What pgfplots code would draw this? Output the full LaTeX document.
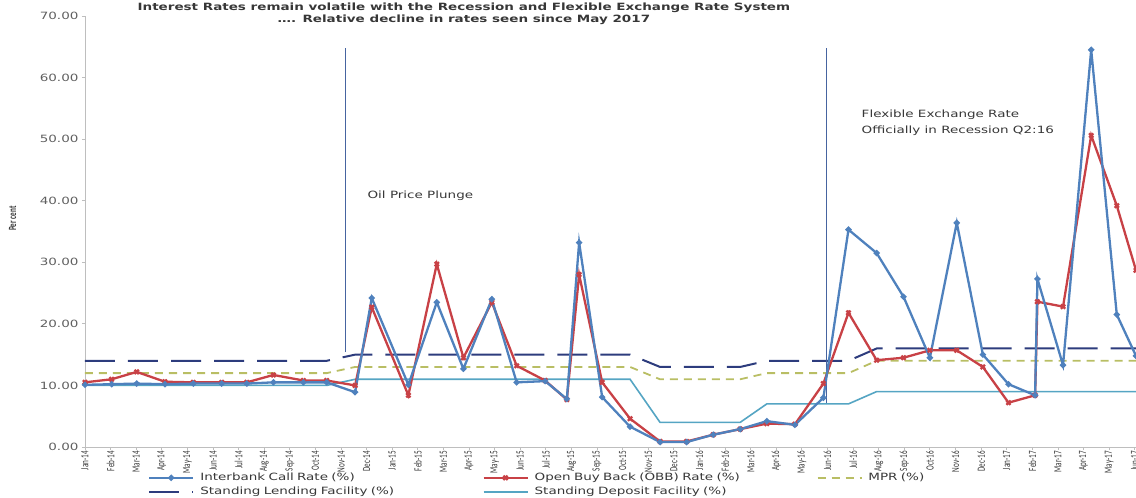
\documentclass[border=0pt]{standalone}
\usepackage{fontspec}
\setmainfont[FakeStretch=1.35]{DejaVu Sans}
\newfontfamily\xfont[FakeStretch=0.65]{Carlito}
\usepackage{pgfplots}
\pgfplotsset{compat=1.18}

\definecolor{ibc}{RGB}{79,129,189}
\definecolor{obbc}{RGB}{200,65,70}
\definecolor{mprc}{RGB}{185,190,100}
\definecolor{slfc}{RGB}{45,60,125}
\definecolor{sdfc}{RGB}{85,165,195}
\definecolor{vlc}{RGB}{70,100,160}
\definecolor{axc}{RGB}{190,190,190}
\definecolor{tickc}{RGB}{95,95,95}
\definecolor{txtc}{RGB}{55,55,55}

\pgfplotsset{
  ibstyle/.style={color=ibc, line width=2.3pt, mark=*, mark size=1.8pt, mark options={solid}},
  obbstyle/.style={color=obbc, line width=2.3pt, mark=x, mark size=3pt, mark options={solid}},
  mprstyle/.style={color=mprc, line width=1.8pt, dash pattern=on 8pt off 6pt},
  slfstyle/.style={color=slfc, line width=2pt, dash pattern=on 30pt off 13pt},
  sdfstyle/.style={color=sdfc, line width=1.6pt},
}

\begin{document}
\begin{tikzpicture}
\begin{axis}[
  scale only axis, width=1051pt, height=431pt,
  xmin=0, xmax=41.05, ymin=0, ymax=70,
  clip=false,
  axis x line*=bottom, axis y line*=left,
  axis line style={axc, line width=0.8pt},
  tick style={axc, line width=0.8pt},
  tick align=outside, major tick length=3pt,
  ytick={0,10,...,70},
  yticklabel={\pgfmathprintnumber[fixed,fixed zerofill,precision=2]{\tick}},
  /pgf/number format/assume math mode=true,
  yticklabel style={font=\fontsize{10}{12}\selectfont, text=tickc},
  xtick={0,...,41},
  xticklabels={Jan-14,Feb-14,Mar-14,Apr-14,May-14,Jun-14,Jul-14,Aug-14,Sep-14,Oct-14,Nov-14,Dec-14,
    Jan-15,Feb-15,Mar-15,Apr-15,May-15,Jun-15,Jul-15,Aug-15,Sep-15,Oct-15,Nov-15,Dec-15,
    Jan-16,Feb-16,Mar-16,Apr-16,May-16,Jun-16,Jul-16,Aug-16,Sep-16,Oct-16,Nov-16,Dec-16,
    Jan-17,Feb-17,Mar-17,Apr-17,May-17,Jun-17},
  xticklabel style={font=\xfont\fontsize{11}{12}\selectfont, rotate=90, anchor=east, inner sep=1pt, text=txtc},
  ylabel={Per cent},
  ylabel style={font=\xfont\bfseries\fontsize{11}{12}\selectfont, at={(axis description cs:-0.069,0.53)}, anchor=center, text=txtc},
  legend columns=3,
  legend cell align=left,
  legend image code/.code={
    \draw[mark repeat=2,mark phase=2,#1] plot coordinates {(0pt,0pt) (22pt,0pt) (44pt,0pt)};
  },
  legend style={at={(axis description cs:0.06,-0.06)}, anchor=north west,
    draw=none, fill=none, inner sep=0pt, outer sep=0pt,
    font=\fontsize{10}{12}\selectfont, text=txtc,
    column sep=0pt, row sep=4pt,
    /tikz/every odd column/.append style={column sep=6pt},
    nodes={inner sep=0pt, text width=282pt, align=left, text height=7.5pt, text depth=2.5pt}},
]
\coordinate (o) at (axis description cs:0,0);

\addlegendimage{ibstyle}\addlegendentry{Interbank Call Rate (\%)}
\addlegendimage{obbstyle}\addlegendentry{Open Buy Back (OBB) Rate (\%)}
\addlegendimage{mprstyle}\addlegendentry{MPR (\%)}
\addlegendimage{slfstyle}\addlegendentry{Standing Lending Facility (\%)}
\addlegendimage{sdfstyle}\addlegendentry{Standing Deposit Facility (\%)}

% policy corridor
\addplot[sdfstyle, forget plot] coordinates {
  (0,10)(9.44,10)(10.55,11)(21.29,11)(22.46,4)(25.59,4)(26.63,7)(29.82,7)(30.92,9)(41.05,9)};
\addplot[mprstyle, forget plot] coordinates {
  (0,12)(9.44,12)(10.55,13)(21.29,13)(22.46,11)(25.59,11)(26.63,12)(29.82,12)(30.92,14)(41.05,14)};
\addplot[slfstyle, forget plot] coordinates {
  (0,14)(9.44,14)(10.55,15)(21.29,15)(22.46,13)(25.59,13)(26.63,14)(29.82,14)(30.92,16)(41.05,16)};

% event markers
\addplot[vlc, line width=0.8pt, forget plot] coordinates {(10.16,15.4)(10.16,64.8)};
\addplot[vlc, line width=0.8pt, forget plot] coordinates {(28.97,7.2)(28.97,64.8)};

% market rates
\addplot[obbstyle, forget plot] coordinates {
  (0,10.5)(1.04,11.0)(2.02,12.2)(3.12,10.6)(4.23,10.5)(5.34,10.5)(6.32,10.5)(7.36,11.7)
  (8.53,10.8)(9.44,10.8)(10.55,10.0)(11.2,22.7)(12.63,8.4)(13.74,29.7)(14.78,14.5)
  (15.89,23.5)(16.86,13.2)(17.97,10.8)(18.82,7.7)(19.3,28.0)(20.2,10.5)(21.29,4.6)
  (22.46,0.9)(23.5,0.9)(24.54,2.0)(25.59,2.9)(26.63,3.8)(27.73,3.7)(28.84,10.3)
  (29.82,21.8)(30.92,14.1)(31.97,14.5)(33.0,15.7)(34.05,15.7)(35.07,13.0)(36.07,7.2)
  (37.11,8.4)(37.2,23.6)(38.2,22.8)(39.3,50.6)(40.3,39.2)(41.05,28.7)};
\addplot[ibstyle, forget plot] coordinates {
  (0,10.1)(1.04,10.2)(2.02,10.3)(3.12,10.2)(4.23,10.3)(5.34,10.3)(6.32,10.3)(7.36,10.5)
  (8.53,10.5)(9.44,10.5)(10.55,8.9)(11.2,24.2)(12.63,10.1)(13.74,23.5)(14.78,12.7)
  (15.89,24.0)(16.86,10.5)(17.97,10.7)(18.82,7.8)(19.3,33.2)(20.2,8.1)(21.29,3.3)
  (22.46,0.8)(23.5,0.8)(24.54,2.0)(25.59,2.9)(26.63,4.2)(27.73,3.6)(28.84,8.0)
  (29.82,35.3)(30.92,31.5)(31.97,24.4)(33.0,14.5)(34.05,36.4)(35.07,15.0)(36.07,10.2)
  (37.11,8.4)(37.2,27.3)(38.2,13.3)(39.3,64.5)(40.3,21.5)(41.05,14.8)};

% titles and notes
\node[font=\bfseries\fontsize{10}{12}\selectfont, text=txtc] at (axis cs:14.8,71.3)
  {Interest Rates remain volatile with the Recession and Flexible Exchange Rate System};
\node[font=\bfseries\fontsize{10}{12}\selectfont, text=txtc] at (axis cs:14.8,69.35)
  {\dots. Relative decline in rates seen since May 2017};
\node[anchor=west, font=\fontsize{10}{12}\selectfont, text=txtc] at (axis cs:10.9,40.8)
  {Oil Price Plunge};
\node[anchor=west, align=left, font=\fontsize{10}{16}\selectfont, text=txtc] at (axis cs:30.2,52.7)
  {Flexible Exchange Rate\\Officially in Recession Q2:16};
\end{axis}
\pgfresetboundingbox
\path (o) ++(-85pt,-51pt) rectangle ++(1136pt,498pt);
\end{tikzpicture}
\end{document}
